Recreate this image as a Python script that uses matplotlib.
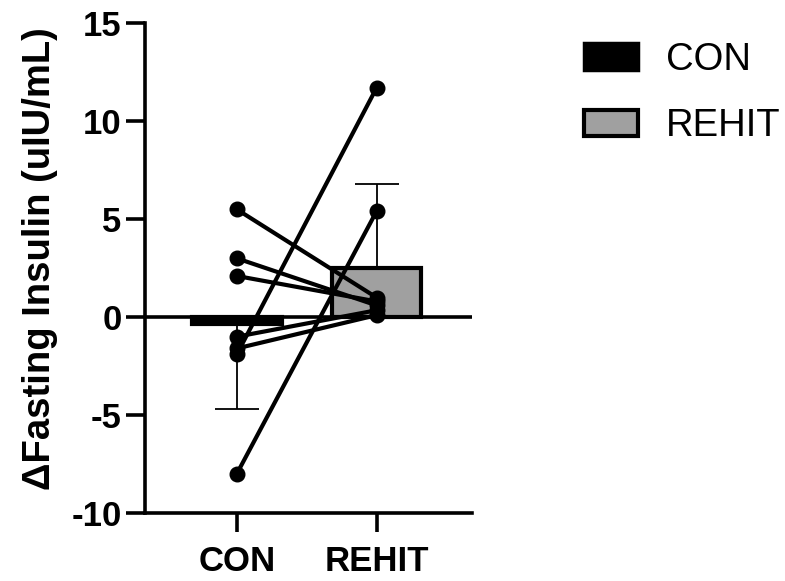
import numpy as np
import matplotlib
matplotlib.use("Agg")
import matplotlib.pyplot as plt
from matplotlib.patches import Patch

plt.rcParams['font.family'] = ['Liberation Sans', 'DejaVu Sans']

groups = ["CON", "REHIT"]
bar_means = [-0.35, 2.5]
bar_err_low = [4.35, 0.0]
bar_err_high = [0.0, 4.3]

# paired subjects: CON value -> REHIT value
con_vals = [5.5, 3.0, 2.1, -1.0, -1.6, -1.9, -8.0]
rehit_vals = [1.0, 0.6, 0.8, 0.35, 0.1, 11.7, 5.4]

bar_colors = ["black", "#a0a0a0"]

fig = plt.figure(figsize=(7.85, 5.81), dpi=100)
ax = fig.add_axes([0.1847, 0.117, 0.416, 0.843])

x = np.arange(len(groups))
ax.bar(x, bar_means, width=0.64, color=bar_colors, edgecolor="black",
       linewidth=3, zorder=2)
ax.errorbar(x, bar_means, yerr=[bar_err_low, bar_err_high], fmt="none",
            ecolor="black", elinewidth=1.3, capsize=16, capthick=1.3, zorder=3)

for a, b in zip(con_vals, rehit_vals):
    ax.plot([0, 1], [a, b], color="black", lw=3, marker="o", ms=10.5,
            zorder=4, solid_capstyle="round")

ax.axhline(0, color="black", lw=2.6, zorder=3)

ax.set_xlim(-0.657, 1.68)
ax.set_ylim(-10, 15)
ax.set_yticks([-10, -5, 0, 5, 10, 15])
ax.set_yticklabels(["-10", "-5", "0", "5", "10", "15"])
ax.set_xticks(x)
ax.set_xticklabels(groups)

for s in ["top", "right"]:
    ax.spines[s].set_visible(False)
for s in ["left", "bottom"]:
    ax.spines[s].set_linewidth(2.6)

ax.tick_params(axis="both", length=14, width=2.6)
ax.tick_params(axis="y", labelsize=25, pad=3)
ax.tick_params(axis="x", labelsize=25, pad=9)
for lab in ax.get_xticklabels() + ax.get_yticklabels():
    lab.set_fontweight("bold")

ax.set_ylabel("\u0394Fasting Insulin (uIU/mL)", fontsize=27.5, fontweight="bold")
ax.yaxis.set_label_coords(-0.265, 0.52)

handles = [Patch(facecolor="black", edgecolor="black", linewidth=2.5),
           Patch(facecolor="#a0a0a0", edgecolor="black", linewidth=3)]
fig.legend(handles, groups, loc="upper left", bbox_to_anchor=(0.744, 0.928),
           frameon=False, fontsize=27.5, handlelength=1.4, handleheight=0.68,
           handletextpad=0.75, labelspacing=0.8, borderpad=0, borderaxespad=0)

fig.savefig("out.png", dpi=100)
